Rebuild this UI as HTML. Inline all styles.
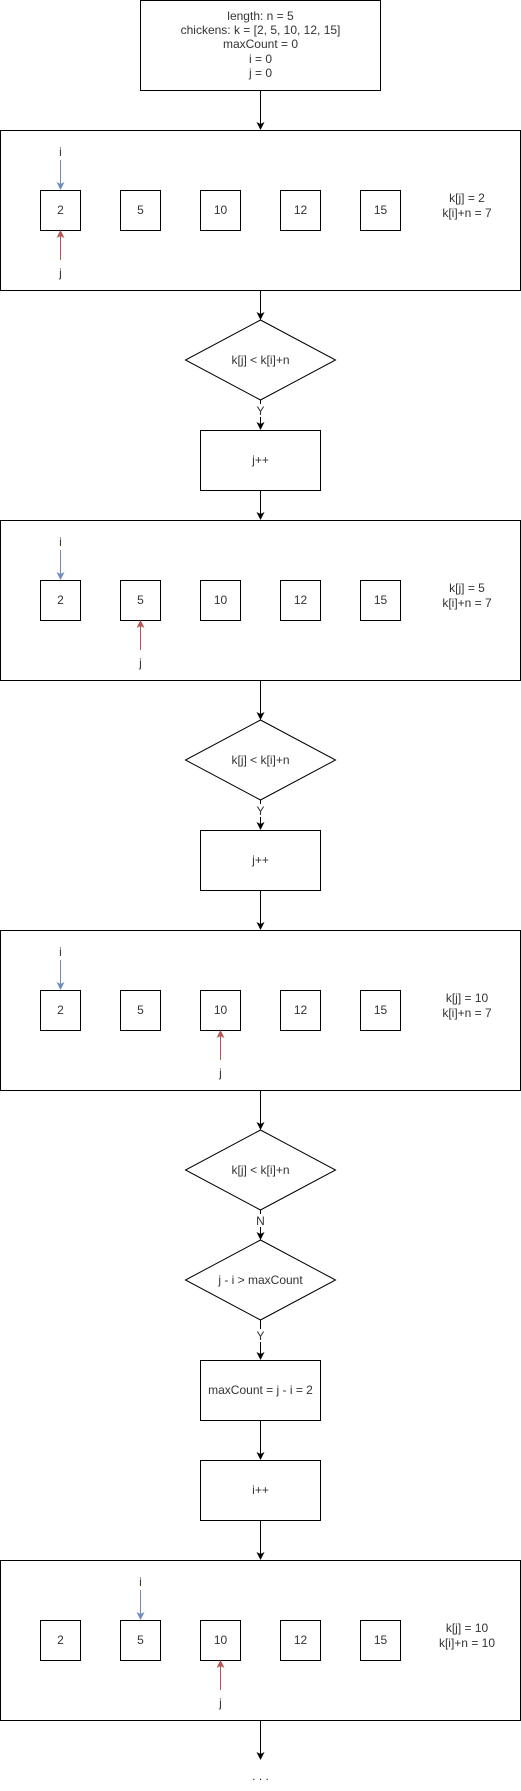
<!DOCTYPE html>
<html><head><meta charset="utf-8"><style>
html,body{margin:0;padding:0;background:#fff;}
svg{display:block;}
text{font-family:"Liberation Sans",Arial,sans-serif;font-size:12px;fill:#333;text-anchor:middle;}
</style></head><body>
<svg width="521" height="1791" viewBox="0 0 521 1791" xmlns="http://www.w3.org/2000/svg">
<defs>
<marker id="a" markerWidth="8" markerHeight="8" refX="7" refY="4" orient="auto" markerUnits="userSpaceOnUse"><path d="M0,0 L8,4 L0,8 L2,4 z" fill="#000"/></marker>
<marker id="b" markerWidth="8" markerHeight="8" refX="7" refY="4" orient="auto" markerUnits="userSpaceOnUse"><path d="M0,0 L8,4 L0,8 L2,4 z" fill="#6c8ebf"/></marker>
<marker id="r" markerWidth="8" markerHeight="8" refX="7" refY="4" orient="auto" markerUnits="userSpaceOnUse"><path d="M0,0 L8,4 L0,8 L2,4 z" fill="#b85450"/></marker>
</defs>
<g fill="none" stroke="#000" stroke-width="1">
<rect x="140.5" y="0.5" width="240" height="90"/>
<!-- connectors -->
<line x1="260.5" y1="90" x2="260.5" y2="129" marker-end="url(#a)"/>
<line x1="260.5" y1="290" x2="260.5" y2="319" marker-end="url(#a)"/>
<line x1="260.5" y1="400" x2="260.5" y2="429" marker-end="url(#a)"/>
<line x1="260.5" y1="490" x2="260.5" y2="519" marker-end="url(#a)"/>
<line x1="260.5" y1="680" x2="260.5" y2="719" marker-end="url(#a)"/>
<line x1="260.5" y1="800" x2="260.5" y2="829" marker-end="url(#a)"/>
<line x1="260.5" y1="890" x2="260.5" y2="929" marker-end="url(#a)"/>
<line x1="260.5" y1="1090" x2="260.5" y2="1129" marker-end="url(#a)"/>
<line x1="260.5" y1="1210" x2="260.5" y2="1239" marker-end="url(#a)"/>
<line x1="260.5" y1="1320" x2="260.5" y2="1359" marker-end="url(#a)"/>
<line x1="260.5" y1="1420" x2="260.5" y2="1459" marker-end="url(#a)"/>
<line x1="260.5" y1="1520" x2="260.5" y2="1559" marker-end="url(#a)"/>
<line x1="260.5" y1="1720" x2="260.5" y2="1759" marker-end="url(#a)"/>
<!-- diamonds & boxes -->
<polygon points="260.5,320 335.5,360 260.5,400 185.5,360"/>
<rect x="200.5" y="430.5" width="120" height="60"/>
<polygon points="260.5,720 335.5,760 260.5,800 185.5,760"/>
<rect x="200.5" y="830.5" width="120" height="60"/>
<polygon points="260.5,1130 335.5,1170 260.5,1210 185.5,1170"/>
<polygon points="260.5,1240 335.5,1280 260.5,1320 185.5,1280"/>
<rect x="200.5" y="1360.5" width="120" height="60"/>
<rect x="200.5" y="1460.5" width="120" height="60"/>
<!-- blocks -->
<rect x="0.5" y="130.5" width="520" height="160"/>
<rect x="0.5" y="520.5" width="520" height="160"/>
<rect x="0.5" y="930.5" width="520" height="160"/>
<rect x="0.5" y="1560.5" width="520" height="160"/>
</g>
<g fill="none" stroke="#000">
<rect x="40.5" y="190.5" width="40" height="40"/><rect x="120.5" y="190.5" width="40" height="40"/><rect x="200.5" y="190.5" width="40" height="40"/><rect x="280.5" y="190.5" width="40" height="40"/><rect x="360.5" y="190.5" width="40" height="40"/>
<rect x="40.5" y="580.5" width="40" height="40"/><rect x="120.5" y="580.5" width="40" height="40"/><rect x="200.5" y="580.5" width="40" height="40"/><rect x="280.5" y="580.5" width="40" height="40"/><rect x="360.5" y="580.5" width="40" height="40"/>
<rect x="40.5" y="990.5" width="40" height="40"/><rect x="120.5" y="990.5" width="40" height="40"/><rect x="200.5" y="990.5" width="40" height="40"/><rect x="280.5" y="990.5" width="40" height="40"/><rect x="360.5" y="990.5" width="40" height="40"/>
<rect x="40.5" y="1620.5" width="40" height="40"/><rect x="120.5" y="1620.5" width="40" height="40"/><rect x="200.5" y="1620.5" width="40" height="40"/><rect x="280.5" y="1620.5" width="40" height="40"/><rect x="360.5" y="1620.5" width="40" height="40"/>
</g>
<!-- pointer arrows -->
<g stroke="#6c8ebf" fill="none">
<line x1="60.5" y1="160" x2="60.5" y2="189" marker-end="url(#b)"/>
<line x1="60.5" y1="550" x2="60.5" y2="579" marker-end="url(#b)"/>
<line x1="60.5" y1="960" x2="60.5" y2="989" marker-end="url(#b)"/>
<line x1="140.5" y1="1590" x2="140.5" y2="1619" marker-end="url(#b)"/>
</g>
<g stroke="#b85450" fill="none">
<line x1="60.5" y1="260" x2="60.5" y2="231" marker-end="url(#r)"/>
<line x1="140.5" y1="650" x2="140.5" y2="621" marker-end="url(#r)"/>
<line x1="220.5" y1="1060" x2="220.5" y2="1031" marker-end="url(#r)"/>
<line x1="220.5" y1="1690" x2="220.5" y2="1661" marker-end="url(#r)"/>
</g>
<!-- Y/N label backgrounds -->
<rect x="254" y="404" width="13" height="13" fill="#fff"/>
<rect x="254" y="804" width="13" height="13" fill="#fff"/>
<rect x="254" y="1214" width="13" height="13" fill="#fff"/>
<rect x="254" y="1329" width="13" height="13" fill="#fff"/>
<!-- text -->
<text x="260.5" y="20">length: n = 5</text>
<text x="260.5" y="34">chickens: k = [2, 5, 10, 12, 15]</text>
<text x="260.5" y="48">maxCount = 0</text>
<text x="260.5" y="63">i = 0</text>
<text x="260.5" y="77">j = 0</text>

<g>
<text x="60.5" y="214">2</text><text x="140.5" y="214">5</text><text x="220.5" y="214">10</text><text x="300.5" y="214">12</text><text x="380.5" y="214">15</text>
<text x="60.5" y="156">i</text><text x="60.5" y="277">j</text>
<text x="467" y="202">k[j] = 2</text><text x="467" y="217">k[i]+n = 7</text>
</g>
<g>
<text x="60.5" y="604">2</text><text x="140.5" y="604">5</text><text x="220.5" y="604">10</text><text x="300.5" y="604">12</text><text x="380.5" y="604">15</text>
<text x="60.5" y="546">i</text><text x="140.5" y="667">j</text>
<text x="467" y="592">k[j] = 5</text><text x="467" y="607">k[i]+n = 7</text>
</g>
<g>
<text x="60.5" y="1014">2</text><text x="140.5" y="1014">5</text><text x="220.5" y="1014">10</text><text x="300.5" y="1014">12</text><text x="380.5" y="1014">15</text>
<text x="60.5" y="956">i</text><text x="220.5" y="1077">j</text>
<text x="467" y="1002">k[j] = 10</text><text x="467" y="1017">k[i]+n = 7</text>
</g>
<g>
<text x="60.5" y="1644">2</text><text x="140.5" y="1644">5</text><text x="220.5" y="1644">10</text><text x="300.5" y="1644">12</text><text x="380.5" y="1644">15</text>
<text x="140.5" y="1586">i</text><text x="220.5" y="1707">j</text>
<text x="467" y="1632">k[j] = 10</text><text x="467" y="1647">k[i]+n = 10</text>
</g>

<text x="260.5" y="364">k[j] &lt; k[i]+n</text>
<text x="260.5" y="415" font-size="11">Y</text>
<text x="260.5" y="464">j++</text>
<text x="260.5" y="764">k[j] &lt; k[i]+n</text>
<text x="260.5" y="815" font-size="11">Y</text>
<text x="260.5" y="864">j++</text>
<text x="260.5" y="1174">k[j] &lt; k[i]+n</text>
<text x="260.5" y="1225" font-size="11">N</text>
<text x="260.5" y="1284">j - i &gt; maxCount</text>
<text x="260.5" y="1340" font-size="11">Y</text>
<text x="260.5" y="1394">maxCount = j - i = 2</text>
<text x="260.5" y="1494">i++</text>
<text x="260.5" y="1780">. . .</text>
</svg>
</body></html>
